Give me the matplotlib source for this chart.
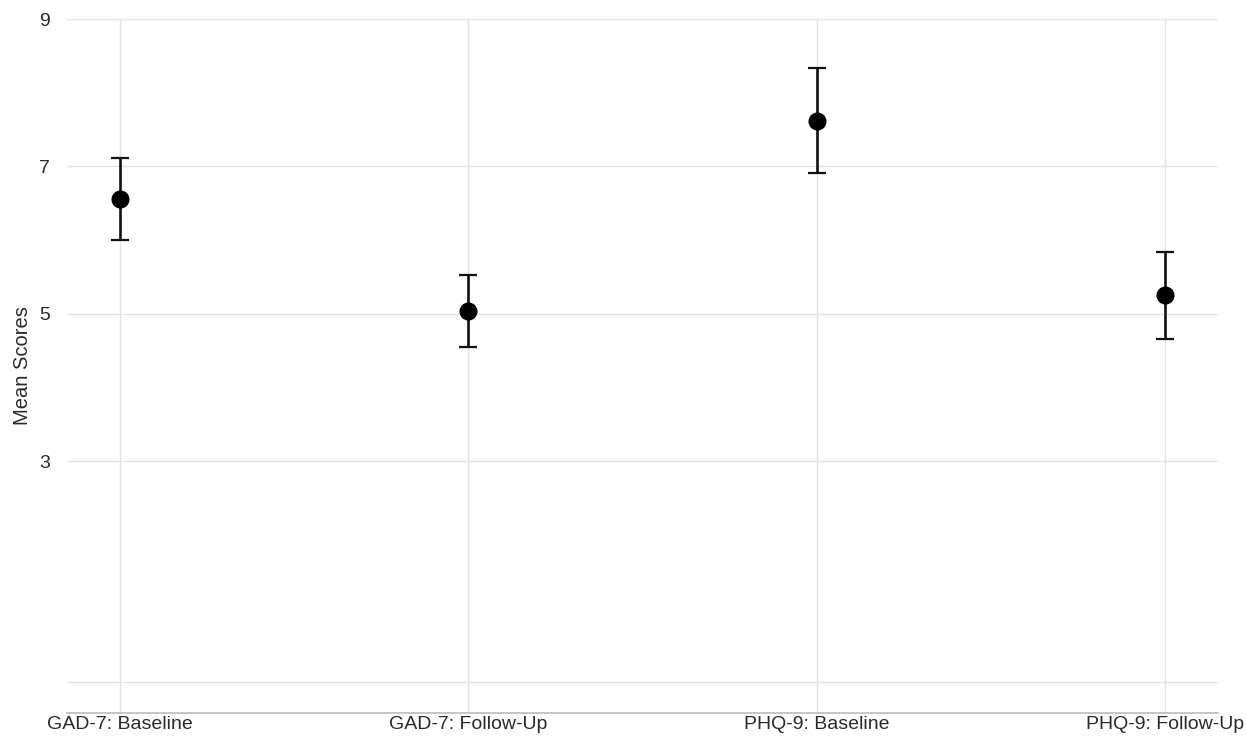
import matplotlib.pyplot as plt

plt.rcParams['font.family'] = ['Liberation Sans', 'DejaVu Sans']

# data
labels = ['GAD-7: Baseline', 'GAD-7: Follow-Up', 'PHQ-9: Baseline', 'PHQ-9: Follow-Up']
means = [6.56, 5.04, 7.62, 5.25]
upper = [7.12, 5.52, 8.33, 5.84]
lower = [6.00, 4.55, 6.91, 4.65]

err_lo = [m - l for m, l in zip(means, lower)]
err_hi = [u - m for m, u in zip(means, upper)]
x = list(range(len(labels)))

fig = plt.figure(figsize=(12.47, 7.37), dpi=100)
ax = fig.add_axes([0.0537, 0.0326, 0.923, 0.9416])

ax.errorbar(x, means, yerr=[err_lo, err_hi], fmt='o', color='black',
            ecolor='#111111', elinewidth=1.9, capsize=6.4, capthick=1.6,
            markersize=12, zorder=3)

ax.set_xlim(-0.152, 3.152)
ax.set_ylim(-0.42, 9)
ax.set_xticks(x)
ax.set_xticklabels(labels, fontsize=14, color='#2a2a2a')
ax.set_yticks([0, 3, 5, 7, 9])
ax.set_yticklabels(['', '3', '5', '7', '9'], fontsize=14, color='#2a2a2a')
ax.tick_params(axis='x', length=0, pad=2)
ax.tick_params(axis='y', length=0, pad=12)
ax.set_ylabel('Mean Scores', fontsize=14.5, color='#2a2a2a', labelpad=5)

ax.grid(True, color='#e3e3e3', linewidth=1)
ax.set_axisbelow(True)
for s in ['top', 'right', 'left']:
    ax.spines[s].set_visible(False)
ax.spines['bottom'].set_color('#bbbbbb')
ax.spines['bottom'].set_linewidth(1.2)

fig.savefig('out.png', dpi=100)
